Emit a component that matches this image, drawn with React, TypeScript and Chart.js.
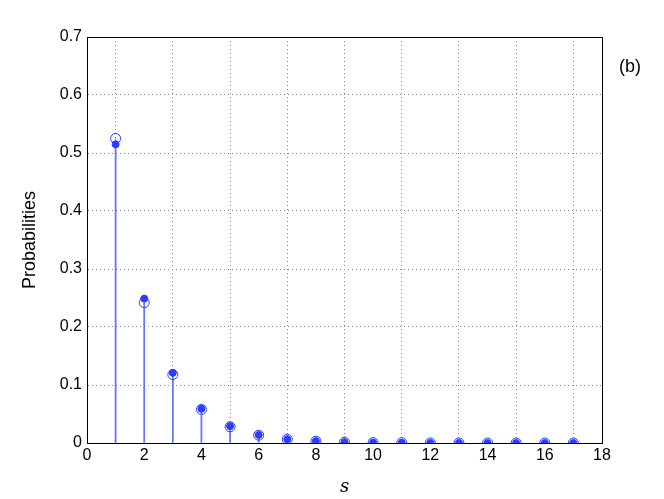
import React, { useEffect, useRef } from "react";
import { Chart, registerables } from "chart.js";

Chart.register(...registerables);

const sValues = [1, 2, 3, 4, 5, 6, 7, 8, 9, 10, 11, 12, 13, 14, 15, 16, 17];
const openSeries = [0.525, 0.242, 0.118, 0.058, 0.028, 0.0135, 0.0064, 0.0032, 0.0016, 0.0008, 0.0004, 0.0002, 0.0001, 0.00005, 0.00003, 0.00001, 0.00001];
const filledSeries = [0.515, 0.249, 0.121, 0.059, 0.029, 0.014, 0.0066, 0.0033, 0.0016, 0.0008, 0.0004, 0.0002, 0.0001, 0.00005, 0.00003, 0.00001, 0.00001];
const xTicks = [0, 2, 4, 6, 8, 10, 12, 14, 16, 18];
const yTicks = [0, 0.1, 0.2, 0.3, 0.4, 0.5, 0.6, 0.7];
const panelLabel = "(b)";
const xTitle = "s";
const yTitle = "Probabilities";

const BLUE = "#2a3cff";

const boxPlugin = {
  id: "boxAndLabel",
  afterDraw(chart: any) {
    const { ctx, chartArea } = chart;
    ctx.save();
    ctx.strokeStyle = "#000";
    ctx.lineWidth = 1;
    ctx.strokeRect(
      Math.round(chartArea.left) + 0.5,
      Math.round(chartArea.top) + 0.5,
      Math.round(chartArea.right - chartArea.left),
      Math.round(chartArea.bottom - chartArea.top)
    );
    ctx.fillStyle = "#000";
    ctx.font = "18px 'Liberation Sans', Arial, sans-serif";
    ctx.textAlign = "center";
    ctx.textBaseline = "middle";
    ctx.fillText(panelLabel, 630, 67);
    ctx.restore();
  },
};

export default function App() {
  const ref = useRef<HTMLCanvasElement | null>(null);
  useEffect(() => {
    document.body.style.margin = "0";
    const canvas = ref.current!;
    const pts = (arr: number[]) => sValues.map((x, i) => ({ x, y: arr[i] }));
    const chart = new Chart(canvas, {
      type: "scatter",
      data: {
        datasets: [
          {
            type: "bar",
            data: pts(openSeries),
            backgroundColor: "rgba(90,110,255,0.6)",
            barThickness: 1,
            grouped: false,
            order: 4,
          } as any,
          {
            type: "bar",
            data: pts(filledSeries),
            backgroundColor: "rgba(60,80,255,0.55)",
            barThickness: 1,
            grouped: false,
            order: 3,
          } as any,
          {
            type: "scatter",
            data: pts(filledSeries),
            pointRadius: 3.5,
            pointBackgroundColor: BLUE,
            pointBorderColor: BLUE,
            pointBorderWidth: 1,
            order: 2,
          },
          {
            type: "scatter",
            data: pts(openSeries),
            pointRadius: 5,
            pointBackgroundColor: "rgba(0,0,0,0)",
            pointBorderColor: BLUE,
            pointBorderWidth: 1,
            order: 1,
          },
        ],
      },
      options: {
        responsive: false,
        animation: false,
        layout: { padding: { left: 0, right: 62, top: 37, bottom: 0 } },
        plugins: { legend: { display: false }, tooltip: { enabled: false } },
        scales: {
          x: {
            type: "linear",
            min: 0,
            max: 18,
            offset: false,
            afterFit(scale: any) {
              scale.height = 56;
            },
            afterBuildTicks(scale: any) {
              scale.ticks = xTicks.map((v) => ({ value: v }));
            },
            ticks: {
              color: "#000",
              font: { family: "'Liberation Sans', Arial, sans-serif", size: 16 },
              padding: 3,
              maxRotation: 0,
              autoSkip: false,
            },
            grid: { color: "#888", drawTicks: false, lineWidth: 1 },
            border: { display: true, color: "#000", dash: [1, 3] },
            title: {
              display: true,
              text: xTitle,
              color: "#000",
              font: { family: "'DejaVu Serif', 'Liberation Serif', serif", size: 18, style: "italic" },
              padding: { top: 0, bottom: 1 },
            },
          },
          y: {
            type: "linear",
            min: 0,
            max: 0.7,
            afterFit(scale: any) {
              scale.width = 87;
            },
            afterBuildTicks(scale: any) {
              scale.ticks = yTicks.map((v) => ({ value: v }));
            },
            ticks: {
              color: "#000",
              font: { family: "'Liberation Sans', Arial, sans-serif", size: 16 },
              padding: 5,
              autoSkip: false,
              callback: (v: any) => String(Math.round(Number(v) * 10) / 10),
            },
            grid: { color: "#888", drawTicks: false, lineWidth: 1 },
            border: { display: true, color: "#000", dash: [1, 3] },
            title: {
              display: true,
              text: yTitle,
              color: "#000",
              font: { family: "'Liberation Sans', Arial, sans-serif", size: 18 },
              padding: { top: 19, bottom: 0 },
            },
          },
        },
      },
      plugins: [boxPlugin],
    } as any);
    return () => chart.destroy();
  }, []);
  return (
    <div style={{ width: 664, height: 499 }}>
      <canvas ref={ref} width={664} height={499} style={{ display: "block", background: "#fff" }} />
    </div>
  );
}
